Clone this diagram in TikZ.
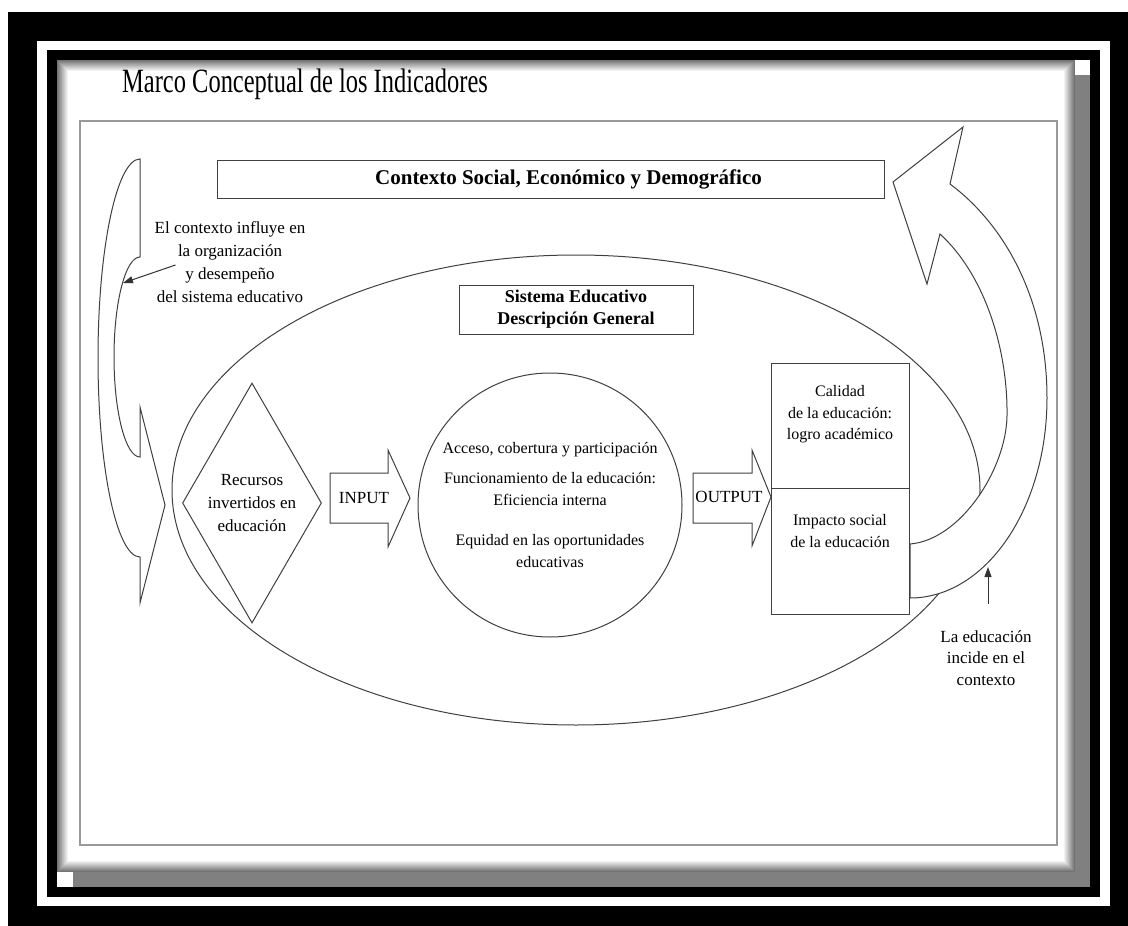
\documentclass[tikz,border=0pt]{standalone}
\usepackage{fontspec}
\setmainfont{Liberation Serif}
\newfontfamily\titlefont[FakeStretch=0.72]{Liberation Serif}
\usetikzlibrary{arrows.meta, positioning, shapes.geometric}
\newcommand\setfs[2]{\fontsize{#1}{#2}\selectfont}

\begin{document}
\begin{tikzpicture}[
x=1pt, y=-1pt,
line/.style={draw=black!75, line width=1pt},
band/.style={line, fill=white},
plain/.style={align=center, inner sep=0pt, font=\setfs{17}{23}},
small/.style={align=center, inner sep=0pt, font=\setfs{16}{21.5}},
hdr/.style={line, fill=white, inner sep=0pt, align=center},
ptr/.style={-{Triangle[length=10pt,width=7pt]}, line width=1pt, black!80}
]

% outer frame and page
\useasboundingbox (0,0) rectangle (1128,926);
\fill[white] (0,0) rectangle (1128,926);
\fill[black] (8,12) rectangle (1128,926);
\fill[white] (37,41) rectangle (1110,906);
\fill[black] (47,50) rectangle (1100,897);
\fill[black!50] (73,75) rectangle (1090,887);
\foreach \i [evaluate=\i as \g using 55-5*\i] in {0,...,11}
  \fill[black!\g] (57+\i,60+\i) rectangle (1075-\i,872-\i);
\fill[white] (1075,60) rectangle (1090,75);
\fill[white] (57,872) rectangle (73,887);
\draw[black!40, line width=1.5pt] (80,121) rectangle (1057,845);

\node[anchor=base west, inner sep=0pt, font=\titlefont\setfs{34}{34}] (title) at (122,92)
  {Marco Conceptual de los Indicadores};

\node[hdr, minimum width=667pt, minimum height=38pt, font=\bfseries\setfs{21}{25}] (ctx) at (550.5,179)
  {\hspace*{36pt}Contexto Social, Económico y Demográfico};

% system ellipse
\draw[line] (576,490) ellipse [x radius=404, y radius=235];

\node[hdr, minimum width=234pt, minimum height=49pt, font=\bfseries\setfs{18}{22}] (sys) at (576,309.5)
  {Sistema Educativo\\Descripción General};

% feedback arrow on the right
\draw[band] (910,598) .. controls (986,598) and (1047,508) .. (1047,398)
  .. controls (1047,300) and (1005,225) .. (950,184) -- (963,127) -- (893,182)
  -- (927,284) -- (940,234) .. controls (985,275) and (1008,350) .. (1007,416)
  .. controls (1006,470) and (960,540) .. (910,544) -- cycle;

% context arrow on the left
\draw[band] (140,160) -- (140,257) arc[start angle=270, end angle=90, x radius=26, y radius=100]
  -- (140,407) -- (165,505) -- (140,603) -- (140,557)
  arc[start angle=90, end angle=270, x radius=42, y radius=199] -- cycle;

\node[plain] (ctxtext) at (230,262)
  {El contexto influye en\\la organización\\y desempeño\\del sistema educativo};
\coordinate (ctxhit) at (123,283);
\draw[ptr] ([xshift=21pt,yshift=-3pt]ctxtext.west) -- (ctxhit);

% resources, process, results
\node[diamond, line, aspect=0.58, minimum width=139pt, minimum height=240pt, inner sep=0pt,
  align=center, font=\setfs{17}{23}] (res) at (252,503)
  {Recursos\\invertidos en\\educación};

\draw[band] (330,473) -- (388,473) -- (388,450) -- (410,498) -- (388,547) -- (388,523) -- (330,523) -- cycle;
\node[plain] (inp) at (364,498) {INPUT};

\node[circle, line, minimum size=264pt, inner sep=0pt, align=center, font=\setfs{16}{22}] (proc) at (550,505)
  {Acceso, cobertura y participación\\[8pt]
   Funcionamiento de la educación:\\Eficiencia interna\\[18pt]
   Equidad en las oportunidades\\educativas};

\draw[band] (693,473) -- (752,473) -- (752,450) -- (771,497) -- (752,546) -- (752,523) -- (693,523) -- cycle;
\node[plain] (outp) at (729,497) {OUTPUT};

\node[hdr, minimum width=138pt, minimum height=125pt] (qual) at (840,425.5) {};
\node[hdr, minimum width=138pt, minimum height=126pt] (imp) at (840,551) {};
\node[small, below=23pt of qual.north] (qualtxt) {Calidad\\de la educación:\\logro académico};
\node[small, below=27pt of imp.north] (imptxt) {Impacto social\\de la educación};

\node[plain, font=\setfs{17}{21.5}] (edu) at (986,658) {La educación\\incide en el\\contexto};
\coordinate (eduhit) at (988,567);
\draw[ptr] ([xshift=2pt,yshift=26pt]edu.north) -- (eduhit);

\end{tikzpicture}
\end{document}
